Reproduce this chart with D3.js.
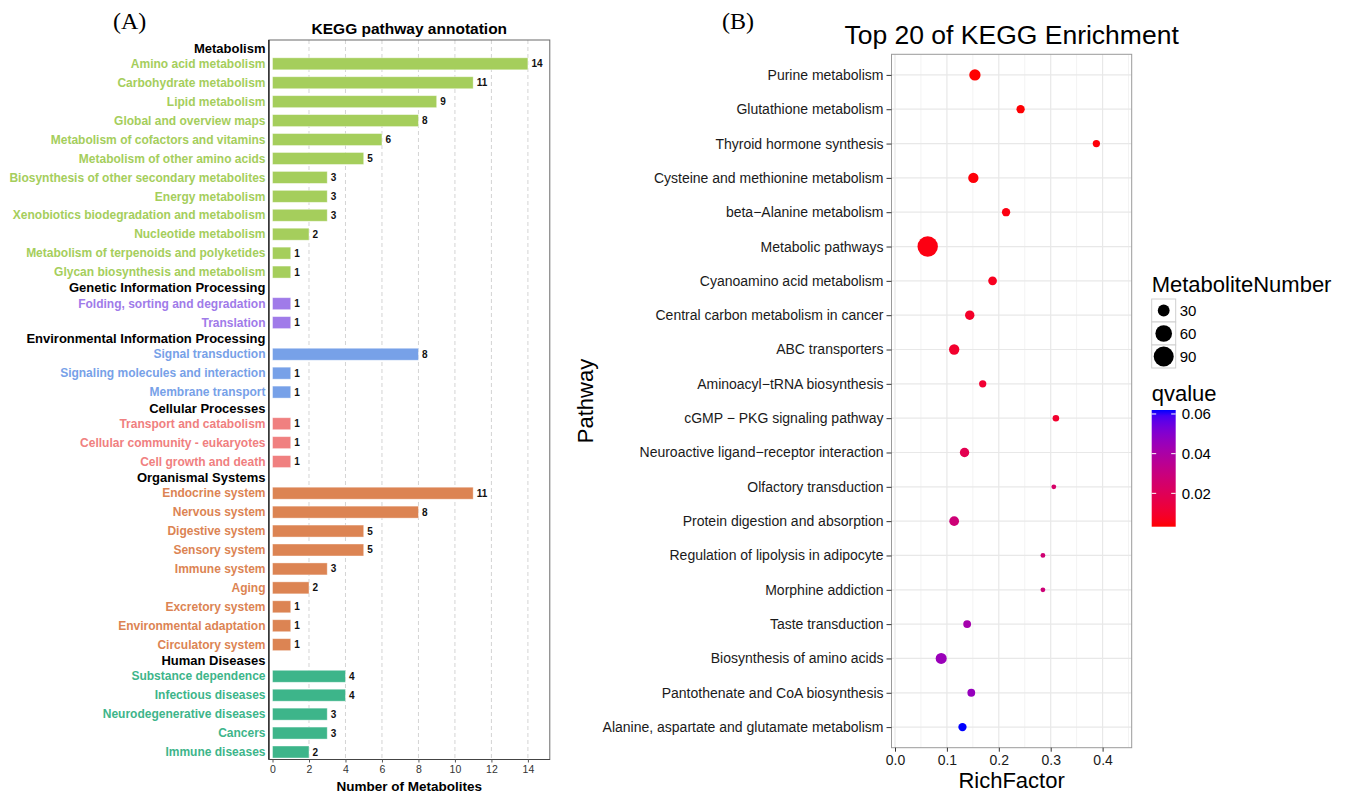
<!DOCTYPE html>
<html><head><meta charset="utf-8">
<script src="https://cdn.jsdelivr.net/npm/d3@7"></script>
<style>
body{margin:0;background:#fff}
svg{display:block}
text{font-family:"Liberation Sans",Arial,Helvetica,sans-serif}
</style>
</head><body>
<svg id="c" width="1351" height="794"></svg>
<script>
// ---------- Panel A data ----------
const groupNames = ["Metabolism","Genetic Information Processing","Environmental Information Processing","Cellular Processes","Organismal Systems","Human Diseases"];
const groupColors = ["#a5ce5c","#a07be9","#77a1e8","#f08080","#dc8453","#3db58a"];
const pathwayNames = [
  "Amino acid metabolism","Carbohydrate metabolism","Lipid metabolism","Global and overview maps",
  "Metabolism of cofactors and vitamins","Metabolism of other amino acids","Biosynthesis of other secondary metabolites",
  "Energy metabolism","Xenobiotics biodegradation and metabolism","Nucleotide metabolism",
  "Metabolism of terpenoids and polyketides","Glycan biosynthesis and metabolism",
  "Folding, sorting and degradation","Translation",
  "Signal transduction","Signaling molecules and interaction","Membrane transport",
  "Transport and catabolism","Cellular community - eukaryotes","Cell growth and death",
  "Endocrine system","Nervous system","Digestive system","Sensory system","Immune system","Aging",
  "Excretory system","Environmental adaptation","Circulatory system",
  "Substance dependence","Infectious diseases","Neurodegenerative diseases","Cancers","Immune diseases"];
const pathwayCounts = [14,11,9,8,6,5,3,3,3,2,1,1, 1,1, 8,1,1, 1,1,1, 11,8,5,5,3,2,1,1,1, 4,4,3,3,2];
const pathwayGroups = [0,0,0,0,0,0,0,0,0,0,0,0, 1,1, 2,2,2, 3,3,3, 4,4,4,4,4,4,4,4,4, 5,5,5,5,5];
const countTicks = [0,2,4,6,8,10,12,14];

// ---------- Panel B data ----------
const enrichPathways = ["Purine metabolism","Glutathione metabolism","Thyroid hormone synthesis",
  "Cysteine and methionine metabolism","beta\u2212Alanine metabolism","Metabolic pathways",
  "Cyanoamino acid metabolism","Central carbon metabolism in cancer","ABC transporters",
  "Aminoacyl\u2212tRNA biosynthesis","cGMP \u2212 PKG signaling pathway","Neuroactive ligand\u2212receptor interaction",
  "Olfactory transduction","Protein digestion and absorption","Regulation of lipolysis in adipocyte",
  "Morphine addiction","Taste transduction","Biosynthesis of amino acids",
  "Pantothenate and CoA biosynthesis","Alanine, aspartate and glutamate metabolism"];
const richFactors = [0.154,0.242,0.388,0.151,0.214,0.063,0.188,0.144,0.114,0.169,
  0.310,0.134,0.306,0.114,0.285,0.285,0.139,0.089,0.147,0.130];
const metaboliteNumbers = [28,18,16,24,18,94,19,21,24,16,15,21,14,22,14,14,17,27,17,18];
const qValues = [0.0032,0.0035,0.004,0.004,0.005,0.005,0.007,0.009,0.010,0.011,
  0.010,0.018,0.024,0.028,0.027,0.028,0.042,0.045,0.046,0.062];
const richTicks = [0,0.1,0.2,0.3,0.4];
const richMinor = [0.05,0.15,0.25,0.35,0.45];
const sizeBreaks = [30,60,90];
const qBreaks = [0.02,0.04,0.06];

const svg = d3.select("#c");

// ================= PANEL A =================
const gA = svg.append("g");
const xL = d3.scaleLinear().domain([0,14]).range([272.5,527.9]);
// vertical slot positions (headers take a reduced slot)
const headerGap = 0.835;
let cur = 0; const headerSlots = []; const itemSlots = [];
groupNames.forEach((g, gi) => {
  if (gi > 0) cur += headerGap;
  headerSlots.push(cur);
  cur += headerGap;
  pathwayNames.forEach((n, i) => { if (pathwayGroups[i] === gi) { itemSlots[i] = cur; cur += 1; } });
  cur -= 1;
});
const yL = d3.scaleLinear().domain([0, d3.max(itemSlots)]).range([48, 752]);
const frameTop = 40, frameBot = 759.5;
const fx0 = xL(-0.2), fx1 = xL(15.2);

gA.append("rect").attr("x",fx0).attr("y",frameTop).attr("width",fx1-fx0).attr("height",frameBot-frameTop)
  .attr("fill","#fff");
// dashed grid
gA.selectAll(".vg").data(countTicks.filter(d=>d>0)).enter().append("line")
  .attr("x1",d=>xL(d)).attr("x2",d=>xL(d)).attr("y1",frameTop).attr("y2",frameBot)
  .attr("stroke","#d4d4d4").attr("stroke-width",1).attr("stroke-dasharray","4,3");
// bars
gA.selectAll(".bar").data(pathwayNames).enter().append("rect")
  .attr("x",xL(0)).attr("y",(d,i)=>yL(itemSlots[i])-6)
  .attr("width",(d,i)=>xL(pathwayCounts[i])-xL(0)).attr("height",12)
  .attr("fill",(d,i)=>groupColors[pathwayGroups[i]])
  .attr("stroke","#ffffff").attr("stroke-opacity",0.5).attr("stroke-width",0.8);
// value labels
gA.selectAll(".val").data(pathwayNames).enter().append("text")
  .attr("x",(d,i)=>xL(pathwayCounts[i])+3.5).attr("y",(d,i)=>yL(itemSlots[i])+3.5)
  .attr("font-size","10px").attr("font-weight","bold").attr("fill","#111")
  .text((d,i)=>pathwayCounts[i]);
// frame
gA.append("rect").attr("x",fx0).attr("y",frameTop).attr("width",fx1-fx0).attr("height",frameBot-frameTop)
  .attr("fill","none").attr("stroke","#6a6a6a").attr("stroke-width",1);
gA.append("line").attr("x1",fx0).attr("x2",fx0).attr("y1",frameTop).attr("y2",frameBot)
  .attr("stroke","#333").attr("stroke-width",1.6);
gA.append("line").attr("x1",fx0).attr("x2",fx1).attr("y1",frameBot).attr("y2",frameBot)
  .attr("stroke","#444").attr("stroke-width",1.2);
// item labels
gA.selectAll(".lab").data(pathwayNames).enter().append("text")
  .attr("x",265.5).attr("y",(d,i)=>yL(itemSlots[i])+4.2)
  .attr("text-anchor","end").attr("font-size","12px").attr("font-weight","bold")
  .attr("fill",(d,i)=>groupColors[pathwayGroups[i]]).text(d=>d);
// group headers
gA.selectAll(".hdr").data(groupNames).enter().append("text")
  .attr("x",265.5).attr("y",(d,i)=>yL(headerSlots[i])+4.6)
  .attr("text-anchor","end").attr("font-size","13px").attr("font-weight","bold")
  .attr("fill","#000").text(d=>d);
// x axis
const axA = gA.append("g").attr("transform",`translate(0,${frameBot})`)
  .call(d3.axisBottom(xL).tickValues(countTicks).tickSize(3).tickPadding(3));
axA.select(".domain").remove();
axA.selectAll(".tick line").attr("stroke","#555");
axA.selectAll(".tick text").attr("font-size","10.5px").attr("fill","#333")
  .attr("font-family","'Liberation Sans',Arial,sans-serif");
gA.append("text").attr("x",(fx0+fx1)/2).attr("y",791).attr("text-anchor","middle")
  .attr("font-size","13.5px").attr("font-weight","bold").text("Number of Metabolites");
gA.append("text").attr("x",(fx0+fx1)/2).attr("y",34).attr("text-anchor","middle")
  .attr("font-size","15.5px").attr("font-weight","bold").text("KEGG pathway annotation");
svg.append("text").attr("x",113).attr("y",29).attr("font-size","24px")
  .style("font-family","'Liberation Serif','Times New Roman',serif").text("(A)");

// ================= PANEL B =================
const gB = svg.append("g");
const pL = 891.5, pR = 1131.7, pT = 54.3, pB = 747.7;
const xR = d3.scaleLinear().domain([0,0.4]).range([895,1102.6]);
const yR = d3.scalePoint().domain(enrichPathways).range([pT,pB]).padding(0.6);
const nMin = d3.min(metaboliteNumbers), nMax = d3.max(metaboliteNumbers);
const rScale = d3.scaleSqrt().domain([0, nMax-nMin]).range([2.4,10.2]);
const rOf = n => rScale(n - nMin);
const qExt = d3.extent(qValues);
const cScale = d3.scaleLinear().domain(qExt).range(["#ff0000","#0000ff"]).interpolate(d3.interpolateLab);

gB.append("rect").attr("x",pL).attr("y",pT).attr("width",pR-pL).attr("height",pB-pT).attr("fill","#fff");
gB.selectAll(".mn").data(richMinor.filter(d=>xR(d)<pR)).enter().append("line")
  .attr("x1",d=>xR(d)).attr("x2",d=>xR(d)).attr("y1",pT).attr("y2",pB)
  .attr("stroke","#f3f3f3").attr("stroke-width",1);
gB.selectAll(".mj").data(richTicks).enter().append("line")
  .attr("x1",d=>xR(d)).attr("x2",d=>xR(d)).attr("y1",pT).attr("y2",pB)
  .attr("stroke","#e8e8e8").attr("stroke-width",1.2);
gB.selectAll(".hg").data(enrichPathways).enter().append("line")
  .attr("x1",pL).attr("x2",pR).attr("y1",d=>yR(d)).attr("y2",d=>yR(d))
  .attr("stroke","#e8e8e8").attr("stroke-width",1.2);
gB.selectAll(".dot").data(enrichPathways).enter().append("circle")
  .attr("cx",(d,i)=>xR(richFactors[i])).attr("cy",d=>yR(d))
  .attr("r",(d,i)=>rOf(metaboliteNumbers[i]))
  .attr("fill",(d,i)=>cScale(qValues[i]));
gB.append("rect").attr("x",pL).attr("y",pT).attr("width",pR-pL).attr("height",pB-pT)
  .attr("fill","none").attr("stroke","#9a9a9a").attr("stroke-width",1);
// y axis
const axY = gB.append("g").attr("transform",`translate(${pL},0)`)
  .call(d3.axisLeft(yR).tickSize(5).tickPadding(3));
axY.select(".domain").remove();
axY.selectAll(".tick line").attr("stroke","#333");
axY.selectAll(".tick text").attr("font-size","14px").attr("fill","#1a1a1a")
  .attr("font-family","'Liberation Sans',Arial,sans-serif");
// x axis
const axX = gB.append("g").attr("transform",`translate(0,${pB})`)
  .call(d3.axisBottom(xR).tickValues(richTicks).tickFormat(d3.format(".1f")).tickSize(4).tickPadding(3));
axX.select(".domain").remove();
axX.selectAll(".tick line").attr("stroke","#333");
axX.selectAll(".tick text").attr("font-size","14px").attr("fill","#1a1a1a")
  .attr("font-family","'Liberation Sans',Arial,sans-serif");
gB.append("text").attr("x",(pL+pR)/2).attr("y",788).attr("text-anchor","middle")
  .attr("font-size","22px").text("RichFactor");
gB.append("text").attr("transform",`translate(593,${(pT+pB)/2}) rotate(-90)`).attr("text-anchor","middle")
  .attr("font-size","22px").text("Pathway");
gB.append("text").attr("x",(pL+pR)/2).attr("y",44).attr("text-anchor","middle")
  .attr("font-size","26.5px").text("Top 20 of KEGG Enrichment");
svg.append("text").attr("x",722).attr("y",29).attr("font-size","24px")
  .style("font-family","'Liberation Serif','Times New Roman',serif").text("(B)");

// legend: size
const lx = 1151.7;
gB.append("text").attr("x",lx).attr("y",292).attr("font-size","22px").text("MetaboliteNumber");
const kTop = 299, kH = 23, kW = 24;
sizeBreaks.forEach((v,i)=>{
  gB.append("rect").attr("x",lx).attr("y",kTop+i*kH).attr("width",kW).attr("height",kH)
    .attr("fill","#fff").attr("stroke","#cfcfcf").attr("stroke-width",1);
  gB.append("circle").attr("cx",lx+kW/2).attr("cy",kTop+i*kH+kH/2).attr("r",rOf(v)).attr("fill","#000");
  gB.append("text").attr("x",lx+kW+4).attr("y",kTop+i*kH+kH/2+5.2).attr("font-size","15px").text(v);
});
// legend: colour
gB.append("text").attr("x",lx).attr("y",401).attr("font-size","22px").text("qvalue");
const cbTop = 410, cbBot = 526.7;
const qY = d3.scaleLinear().domain(qExt).range([cbBot, cbTop]);
const grad = svg.append("defs").append("linearGradient").attr("id","qgrad")
  .attr("x1","0").attr("y1","1").attr("x2","0").attr("y2","0");
d3.range(0,1.0001,0.05).forEach(t=>{
  grad.append("stop").attr("offset",t).attr("stop-color",cScale(qExt[0]+t*(qExt[1]-qExt[0])));
});
gB.append("rect").attr("x",lx).attr("y",cbTop).attr("width",kW).attr("height",cbBot-cbTop).attr("fill","url(#qgrad)");
qBreaks.forEach(v=>{
  const y = qY(v);
  gB.append("line").attr("x1",lx).attr("x2",lx+4.5).attr("y1",y).attr("y2",y).attr("stroke","#fff").attr("stroke-width",1);
  gB.append("line").attr("x1",lx+kW-4.5).attr("x2",lx+kW).attr("y1",y).attr("y2",y).attr("stroke","#fff").attr("stroke-width",1);
  gB.append("text").attr("x",lx+kW+6).attr("y",y+5.2).attr("font-size","15px").text(d3.format(".2f")(v));
});
</script>
</body></html>
